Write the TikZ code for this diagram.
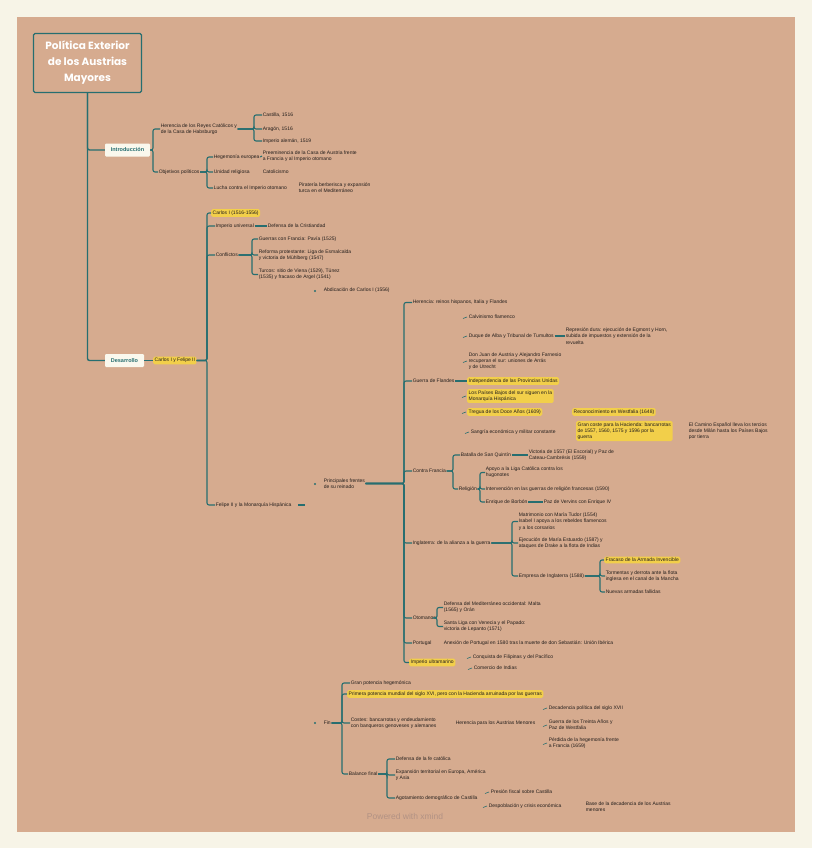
\documentclass[tikz,border=0pt]{standalone}
\usepackage{fontspec}
\setmainfont{Liberation Sans}
\newfontfamily\titlefont{Poppins}
\usetikzlibrary{positioning}

\definecolor{paper}{RGB}{247,244,231}
\definecolor{tan}{RGB}{214,171,143}
\definecolor{mindteal}{RGB}{38,110,112}
\definecolor{marker}{RGB}{242,207,74}
\definecolor{ink}{RGB}{35,30,28}
\definecolor{boxfill}{RGB}{250,248,237}
\definecolor{stamp}{RGB}{178,146,132}

\begin{document}
\begin{tikzpicture}[x=1pt, y=-1pt,
    txt/.style={anchor=west, inner sep=0.6pt, text=ink, align=left, font=\fontsize{5}{6.2}\selectfont},
    hl/.style={txt, fill=marker, rounded corners=1.5pt, inner sep=1.5pt},
    branch/.style={fill=boxfill, text=mindteal, rounded corners=1.2pt, minimum height=13pt, font=\bfseries\fontsize{5.5}{6.5}\selectfont},
    link/.style={draw=mindteal, line width=1.1pt, rounded corners=2pt},
    twig/.style={draw=mindteal, line width=0.6pt},
    knob/.style={fill=mindteal, circle, inner sep=0.8pt}]

    \fill[paper] (0,0) rectangle (812,848);
    \fill[tan] (17,17) rectangle (795,832);

    \node[draw=mindteal, line width=1.2pt, rounded corners=1.5pt, minimum width=108pt, minimum height=59pt, align=center, text=white, font=\titlefont\bfseries\fontsize{10.5}{16}\selectfont] (title) at (87.5,63) {Política Exterior\\de los Austrias\\Mayores};

    \node[branch, minimum width=45pt] (intro) at (127.5,150) {Introducción};
    \node[branch, minimum width=39pt] (desa) at (124.5,360.5) {Desarrollo};
    \draw[link, line width=1.4pt] (title.south) |- (intro.west);
    \draw[link, line width=1.4pt] (title.south) |- (desa.west);

    % introduccion
    \node[txt] (orig) at (160,129) {Herencia de los Reyes Católicos y\\de la Casa de Habsburgo};
    \node[txt] (obj) at (158,172) {Objetivos políticos};
    \foreach \c in {orig,obj} \draw[link] (intro.east) -- (153,0 |- intro.east) |- (\c.west);

    \node[txt] (cas) at (262,115) {Castilla, 1516};
    \node[txt] (ara) at (262,129) {Aragón, 1516};
    \node[txt] (imp) at (262,141) {Imperio alemán, 1519};
    \foreach \c in {cas,ara,imp} \draw[link] (orig.east) -- (254,0 |- orig.east) |- (\c.west);

    \node[txt] (hege) at (213,157) {Hegemonía europea};
    \node[txt] (reli) at (213,172) {Unidad religiosa};
    \node[txt] (turco) at (213,188) {Lucha contra el Imperio otomano};
    \foreach \c in {hege,reli,turco} \draw[link] (obj.east) -- (207,0 |- obj.east) |- (\c.west);
    \node[txt] (hegeb) at (262,156) {Preeminencia de la Casa de Austria frente\\a Francia y al Imperio otomano};
    \draw[link] (hege.east) -- (hegeb.west);
    \node[txt] (relib) at (262,172) {Catolicismo};
    \node[txt] (turcob) at (298,188) {Piratería berberisca y expansión\\turca en el Mediterráneo};

    % desarrollo
    \node[hl] (siglo) at (153,360.5) {Carlos I y Felipe II};
    \draw[link] (desa.east) -- (siglo.west);
    \node[hl] (car) at (211,213) {Carlos I (1516-1556)};
    \node[txt] (her) at (215,226) {Imperio universal};
    \node[txt] (conf) at (215,255) {Conflictos};
    \node[txt] (fel) at (215,505) {Felipe II y la Monarquía Hispánica};
    \foreach \c in {car,her,conf,fel} \draw[link] (siglo.east) -- (207,0 |- siglo.east) |- (\c.west);

    \node[txt] (herb) at (267,226) {Defensa de la Cristiandad};
    \draw[link] (her.east) -- (herb.west);
    \node[txt] (cf1) at (258,239) {Guerras con Francia: Pavía (1525)};
    \node[txt] (cf2) at (258,255) {Reforma protestante: Liga de Esmalcalda\\y victoria de Mühlberg (1547)};
    \node[txt] (cf3) at (258,274.5) {Turcos: sitio de Viena (1529), Túnez\\(1535) y fracaso de Argel (1541)};
    \foreach \c in {cf1,cf2,cf3} \draw[link] (conf.east) -- (252,0 |- conf.east) |- (\c.west);

    \node[knob] (abdk) at (315,291) {};
    \node[txt] (abd) at (323,290.5) {Abdicación de Carlos I (1556)};
    \draw[link] (fel.east) ++(6,0) -- ++(7,0);
    \node[knob] (polk) at (315,484) {};
    \node[txt] (pol) at (323,483.5) {Principales frentes\\de su reinado};

    % frentes de Felipe II
    \node[txt] (p1) at (412,302.5) {Herencia: reinos hispanos, Italia y Flandes};
    \node[txt] (fla) at (412,381) {Guerra de Flandes};
    \node[txt] (fra) at (412,471) {Contra Francia};
    \node[txt] (ing) at (412,543) {Inglaterra: de la alianza a la guerra};
    \node[txt] (oto) at (412,618) {Otomanos};
    \node[txt] (por) at (412,643) {Portugal};
    \node[hl] (ult) at (409,662.5) {Imperio ultramarino};
    \foreach \c in {p1,fla,fra,ing,oto,por,ult} \draw[link] (pol.east) -- (404,0 |- pol.east) |- (\c.west);

    \node[hl] (fl0) at (467,381) {Independencia de las Provincias Unidas};
    \draw[link] (fla.east) -- (fl0.west);
    \node[txt] (fl1) at (468,317) {Calvinismo flamenco};
    \node[txt] (fl2) at (468,336) {Duque de Alba y Tribunal de Tumultos};
    \node[txt] (fl3) at (468,361) {Don Juan de Austria y Alejandro Farnesio\\recuperan el sur: uniones de Arrás\\y de Utrecht};
    \node[hl] (fl4) at (467,396) {Los Países Bajos del sur siguen en la\\Monarquía Hispánica};
    \node[hl] (fl5) at (467,412) {Tregua de los Doce Años (1609)};
    \node[txt] (fl6) at (470,432) {Sangría económica y militar constante};
    \foreach \c in {fl1,fl2,fl3,fl4,fl5,fl6} \draw[twig] (\c.west) ++(-1,0) -- ++(-4,1.5);
    \node[txt] (fl2b) at (565,336) {Represión dura: ejecución de Egmont y Horn,\\subida de impuestos y extensión de la\\revuelta};
    \draw[link] (fl2.east) -- (fl2b.west);
    \node[hl] (fl5b) at (572,412) {Reconocimiento en Westfalia (1648)};
    \node[hl] (fl6b) at (576,431) {Gran coste para la Hacienda: bancarrotas\\de 1557, 1560, 1575 y 1596 por la\\guerra};
    \node[txt] (fl6c) at (688,431) {El Camino Español lleva los tercios\\desde Milán hasta los Países Bajos\\por tierra};

    \node[txt] (fr1) at (460,455) {Batalla de San Quintín};
    \node[txt] (hug) at (458,489) {Religión};
    \foreach \c in {fr1,hug} \draw[link] (fra.east) -- (453,0 |- fra.east) |- (\c.west);
    \node[txt] (fr1b) at (528,455) {Victoria de 1557 (El Escorial) y Paz de\\Cateau-Cambrésis (1559)};
    \draw[link] (fr1.east) -- (fr1b.west);
    \node[txt] (h1) at (485,472.5) {Apoyo a la Liga Católica contra los\\hugonotes};
    \node[txt] (h2) at (485,489) {Intervención en las guerras de religión francesas (1590)};
    \node[txt] (h3) at (485,502) {Enrique de Borbón};
    \foreach \c in {h1,h2,h3} \draw[link] (hug.east) -- (480,0 |- hug.east) |- (\c.west);
    \node[txt] (h3b) at (543,502) {Paz de Vervins con Enrique IV};
    \draw[link] (h3.east) -- (h3b.west);

    \node[txt] (i1) at (518,521.5) {Matrimonio con María Tudor (1554)\\Isabel I apoya a los rebeldes flamencos\\y a los corsarios};
    \node[txt] (i2) at (518,543) {Ejecución de María Estuardo (1587) y\\ataques de Drake a la flota de Indias};
    \node[txt] (arm) at (518,576) {Empresa de Inglaterra (1588)};
    \foreach \c in {i1,i2,arm} \draw[link] (ing.east) -- (512,0 |- ing.east) |- (\c.west);
    \node[hl] (a1) at (604,560) {Fracaso de la Armada Invencible};
    \node[txt] (a2) at (605,576) {Tormentas y derrota ante la flota\\inglesa en el canal de la Mancha};
    \node[txt] (a3) at (605,592) {Nuevas armadas fallidas};
    \foreach \c in {a1,a2,a3} \draw[link] (arm.east) -- (600,0 |- arm.east) |- (\c.west);

    \node[txt] (t1) at (443,607.5) {Defensa del Mediterráneo occidental: Malta\\(1565) y Orán};
    \node[txt] (t2) at (443,626.5) {Santa Liga con Venecia y el Papado:\\victoria de Lepanto (1571)};
    \foreach \c in {t1,t2} \draw[link] (oto.east) -- (437,0 |- oto.east) |- (\c.west);
    \node[txt] (porb) at (443,643) {Anexión de Portugal en 1580 tras la muerte de don Sebastián: Unión Ibérica};

    \node[txt] (u1) at (472,657) {Conquista de Filipinas y del Pacífico};
    \node[txt] (u2) at (473,668) {Comercio de Indias};
    \foreach \c in {u1,u2} \draw[twig] (\c.west) ++(-1,0) -- ++(-4,1.5);

    % final
    \node[knob] (fink) at (315,723) {};
    \node[txt] (fin) at (323,723) {Fin};
    \node[txt] (f1) at (350,683) {Gran potencia hegemónica};
    \node[hl] (f2) at (347,694) {Primera potencia mundial del siglo XVI, pero con la Hacienda arruinada por las guerras};
    \node[txt] (f3) at (350,723) {Costes: bancarrotas y endeudamiento\\con banqueros genoveses y alemanes};
    \node[txt] (val) at (348,774) {Balance final};
    \foreach \c in {f1,f2,f3,val} \draw[link] (fin.east) -- (342,0 |- fin.east) |- (\c.west);

    \node[txt] (f3b) at (455,723) {Herencia para los Austrias Menores};
    \node[txt] (g1) at (548,708) {Decadencia política del siglo XVII};
    \node[txt] (g2) at (548,725) {Guerra de los Treinta Años y\\Paz de Westfalia};
    \node[txt] (g3) at (548,743) {Pérdida de la hegemonía frente\\a Francia (1659)};
    \foreach \c in {g1,g2,g3} \draw[twig] (\c.west) ++(-1,0) -- ++(-4,1.5);

    \node[txt] (v1) at (395,759) {Defensa de la fe católica};
    \node[txt] (v2) at (395,775) {Expansión territorial en Europa, América\\y Asia};
    \node[txt] (v3) at (395,798) {Agotamiento demográfico de Castilla};
    \foreach \c in {v1,v2,v3} \draw[link] (val.east) -- (387,0 |- val.east) |- (\c.west);
    \node[txt] (w1) at (490,792) {Presión fiscal sobre Castilla};
    \node[txt] (w2) at (488,806) {Despoblación y crisis económica};
    \foreach \c in {w1,w2} \draw[twig] (\c.west) ++(-1,0) -- ++(-4,1.5);
    \node[txt] (w2b) at (585,807) {Base de la decadencia de los Austrias\\menores};

    \node[text=stamp, font=\fontsize{8.5}{10}\selectfont] (pow) at (405,816) {Powered with xmind};
\end{tikzpicture}
\end{document}
